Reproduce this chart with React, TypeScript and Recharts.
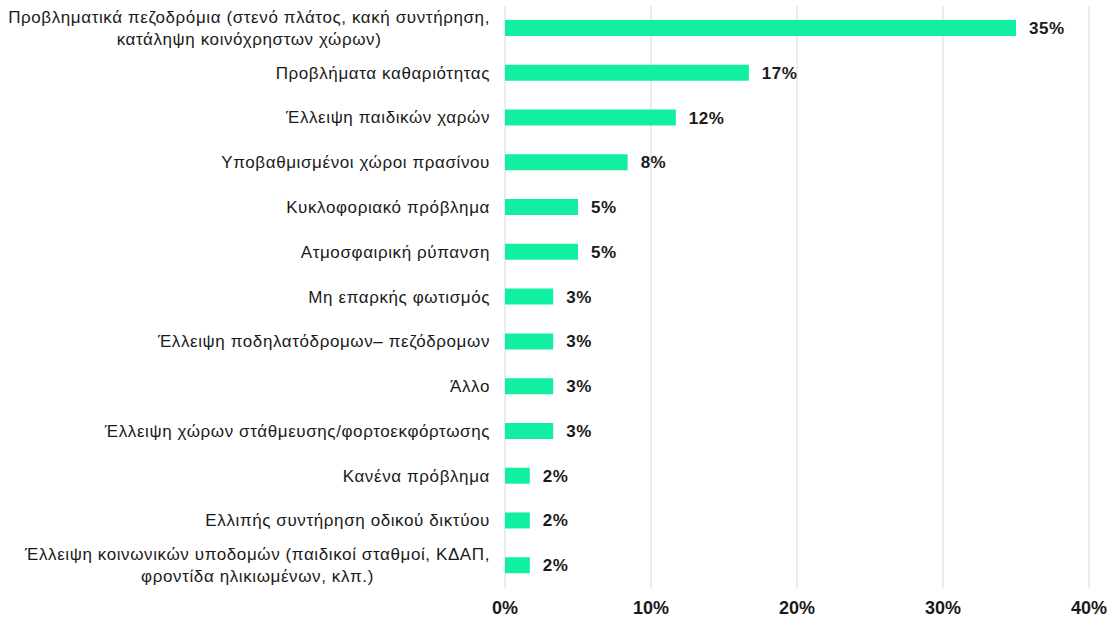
import React from 'react';
import { BarChart, Bar, XAxis, YAxis, CartesianGrid, LabelList } from 'recharts';

const categories = [
  'Προβληματικά πεζοδρόμια (στενό πλάτος, κακή συντήρηση,\nκατάληψη κοινόχρηστων χώρων)',
  'Προβλήματα καθαριότητας',
  'Έλλειψη παιδικών χαρών',
  'Υποβαθμισμένοι χώροι πρασίνου',
  'Κυκλοφοριακό πρόβλημα',
  'Ατμοσφαιρική ρύπανση',
  'Μη επαρκής φωτισμός',
  'Έλλειψη ποδηλατόδρομων– πεζόδρομων',
  'Άλλο',
  'Έλλειψη χώρων στάθμευσης/φορτοεκφόρτωσης',
  'Κανένα πρόβλημα',
  'Ελλιπής συντήρηση οδικού δικτύου',
  'Έλλειψη κοινωνικών υποδομών (παιδικοί σταθμοί, ΚΔΑΠ,\nφροντίδα ηλικιωμένων, κλπ.)',
];

const values = [35.0, 16.7, 11.7, 8.4, 5.0, 5.0, 3.3, 3.3, 3.3, 3.3, 1.7, 1.7, 1.7];

const valueLabels = ['35%', '17%', '12%', '8%', '5%', '5%', '3%', '3%', '3%', '3%', '2%', '2%', '2%'];

const xTicks = [0, 10, 20, 30, 40];

const FONT = '"Liberation Sans", Arial, sans-serif';
const BAR_COLOR = '#10F0A0';
const CAT_SIZE = 17;
const CAT_SPACING = 0.6;

const data = categories.map((name, i) => ({ name, value: values[i], label: valueLabels[i] }));

// measure text so wrapped labels can be centred as a block
let measureCtx: CanvasRenderingContext2D | null = null;
const textWidth = (s: string, size: number) => {
  if (!measureCtx) measureCtx = document.createElement('canvas').getContext('2d');
  if (!measureCtx) return s.length * size * 0.5;
  measureCtx.font = `${size}px ${FONT}`;
  return measureCtx.measureText(s).width + s.length * CAT_SPACING;
};

const CategoryTick = ({ x, y, payload }: any) => {
  const lines = String(payload.value).split('\n');
  const lineHeight = 21.5;
  const right = x - 7;
  const common = {
    fontSize: CAT_SIZE,
    fontFamily: FONT,
    fill: '#1a1a1a',
    letterSpacing: CAT_SPACING,
    dominantBaseline: 'central' as const,
  };
  if (lines.length === 1) {
    return (
      <text x={right} y={y} textAnchor="end" {...common}>
        {lines[0]}
      </text>
    );
  }
  const w = Math.max(...lines.map((l) => textWidth(l, CAT_SIZE)));
  const cx = right - w / 2;
  return (
    <g>
      {lines.map((l, i) => (
        <text key={i} x={cx} y={y + (i - (lines.length - 1) / 2) * lineHeight} textAnchor="middle" {...common}>
          {l}
        </text>
      ))}
    </g>
  );
};

const App = () => {
  return (
    <div style={{ position: 'absolute', left: 0, top: 0, width: 1111, height: 620, background: '#fff' }}>
      <BarChart
        width={1111}
        height={620}
        data={data}
        layout="vertical"
        margin={{ top: 6, right: 22, left: 0, bottom: 0 }}
        barCategoryGap={0}
      >
        <CartesianGrid horizontal={false} vertical stroke="#d9d9d9" />
        <XAxis
          type="number"
          domain={[0, 40]}
          ticks={xTicks}
          tickFormatter={(v) => `${v}%`}
          axisLine={false}
          tickLine={false}
          tickSize={0}
          tickMargin={13}
          height={32}
          interval={0}
          tick={{ fontSize: 18, fontWeight: 'bold', fill: '#1a1a1a', fontFamily: FONT }}
        />
        <YAxis
          type="category"
          dataKey="name"
          width={505}
          axisLine={false}
          tickLine={false}
          interval={0}
          tick={<CategoryTick />}
        />
        <Bar dataKey="value" fill={BAR_COLOR} barSize={16} isAnimationActive={false}>
          <LabelList
            dataKey="label"
            position="right"
            offset={13}
            style={{ fontSize: 17, fontWeight: 'bold', fill: '#1a1a1a', fontFamily: FONT, letterSpacing: 0.5 }}
          />
        </Bar>
      </BarChart>
    </div>
  );
};

export default App;
